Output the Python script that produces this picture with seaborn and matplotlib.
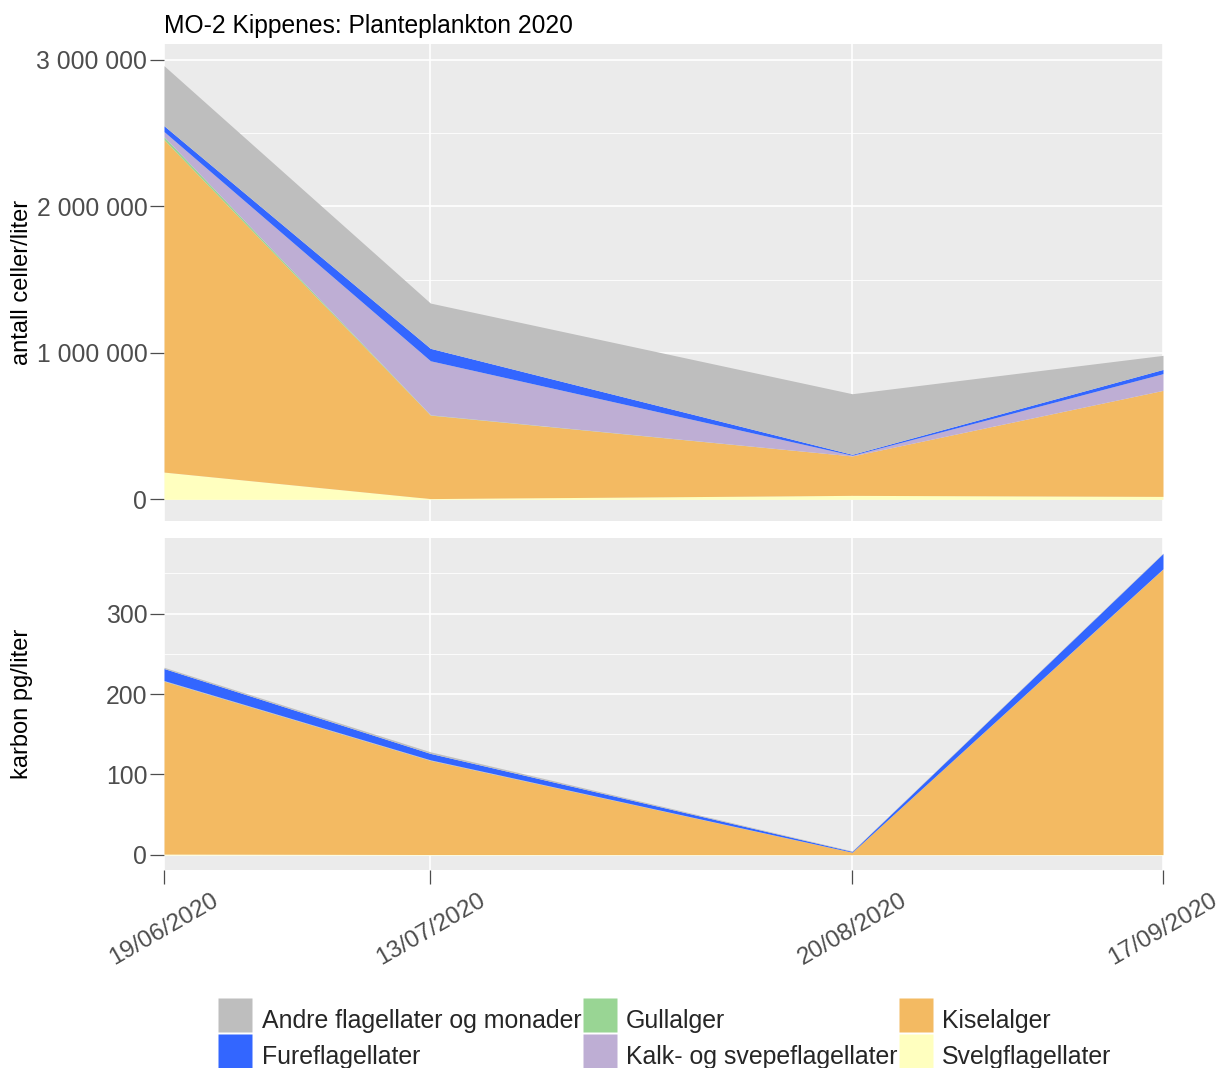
import matplotlib
matplotlib.use("Agg")
import matplotlib.pyplot as plt
import matplotlib.dates as mdates
from matplotlib.ticker import FuncFormatter, MultipleLocator
from matplotlib.lines import Line2D
import seaborn as sns
import pandas as pd

# data
datoer = pd.to_datetime(["2020-06-19", "2020-07-13", "2020-08-20", "2020-09-17"])

grupper = ["Svelgflagellater", "Kiselalger", "Gullalger",
           "Kalk- og svepeflagellater", "Fureflagellater",
           "Andre flagellater og monader"]
farger = ["#FFFFBF", "#F3BA62", "#99D594", "#BEAED4", "#3366FF", "#BEBEBE"]

# antall celler/liter
svelg_celler = [186000, 5000, 27000, 20000]
kisel_celler = [2270000, 570000, 269000, 724000]
gull_celler = [20000, 2000, 0, 0]
kalk_celler = [35000, 369000, 5000, 114000]
fure_celler = [40000, 85000, 6000, 29000]
andre_celler = [410000, 309000, 414000, 96000]

# karbon pg/liter
svelg_karbon = [1, 0.5, 0.3, 0.5]
kisel_karbon = [215, 117, 3, 355]
gull_karbon = [0.3, 0.2, 0, 0]
kalk_karbon = [0.5, 0.5, 0.1, 0.3]
fure_karbon = [15, 8, 1, 19]
andre_karbon = [1.5, 2, 0.5, 0.5]

celler = [svelg_celler, kisel_celler, gull_celler, kalk_celler, fure_celler, andre_celler]
karbon = [svelg_karbon, kisel_karbon, gull_karbon, kalk_karbon, fure_karbon, andre_karbon]

sns.set_theme(style="darkgrid", rc={"axes.facecolor": "#EBEBEB", "grid.color": "white"})
plt.rcParams["font.family"] = ["Liberation Sans", "DejaVu Sans"]

fig = plt.figure(figsize=(12.22, 10.68), dpi=100)
W, H = 1222, 1068
ax1 = fig.add_axes([164 / W, 1 - 521 / H, 999 / W, 477 / H])
ax2 = fig.add_axes([164 / W, 1 - 870 / H, 999 / W, 332 / H])


def mellomrom(v, pos):
    return f"{v:,.0f}".replace(",", " ")


for ax, verdier, ytittel, steg in [(ax1, celler, "antall celler/liter", 1000000),
                                   (ax2, karbon, "karbon pg/liter", 100)]:
    ax.stackplot(datoer, *verdier, colors=farger, linewidth=0)
    total = [sum(v) for v in zip(*verdier)]
    m = max(total)
    ax.set_ylim(-0.05 * m, 1.05 * m)
    ax.set_xlim(datoer[0], datoer[-1])
    ax.yaxis.set_major_locator(MultipleLocator(steg))
    ax.yaxis.set_minor_locator(MultipleLocator(steg / 2))
    ax.yaxis.set_major_formatter(FuncFormatter(mellomrom))
    ax.set_xticks(datoer)
    ax.grid(which="major", color="white", linewidth=1.2)
    ax.grid(which="minor", axis="y", color="white", linewidth=0.6)
    for s in ax.spines.values():
        s.set_visible(False)
    ax.tick_params(axis="y", left=True, length=10, width=0.9, color="#4D4D4D",
                   labelsize=17.8, labelcolor="#4D4D4D", pad=2)
    ax.tick_params(axis="y", which="minor", left=False)
    ax.set_ylabel(ytittel, fontsize=17, color="black")
    ax.yaxis.set_label_coords(-0.131, 0.5)

ax1.tick_params(axis="x", bottom=False, labelbottom=False)
ax2.xaxis.set_major_formatter(mdates.DateFormatter("%d/%m/%Y"))
ax2.tick_params(axis="x", bottom=True, length=10, width=0.9, color="#4D4D4D",
                labelsize=17.5, labelcolor="#4D4D4D", pad=4)
for lab in ax2.get_xticklabels():
    lab.set_rotation(30)
    lab.set_ha("center")

fig.text(164 / W, 1 - 33 / H, "MO-2 Kippenes: Planteplankton 2020",
         fontsize=17.7, va="baseline", ha="left", color="black")

# legend, ggplot-like order (row-wise)
rekkefolge = [5, 4, 2, 3, 1, 0]
handles = [Line2D([], [], marker="s", markersize=24.5, linestyle="none",
                  markerfacecolor=farger[i], markeredgecolor="none") for i in rekkefolge]
labels = [grupper[i] for i in rekkefolge]
fig.legend(handles, labels, ncol=3, loc="upper left",
           bbox_to_anchor=(218 / W, 1 - 1002 / H), frameon=False,
           borderpad=0, borderaxespad=0, handlelength=1.4, handleheight=1.84,
           labelspacing=0.0, handletextpad=0.35, columnspacing=0.05, fontsize=17.9)

fig.savefig("out.png", dpi=100)
